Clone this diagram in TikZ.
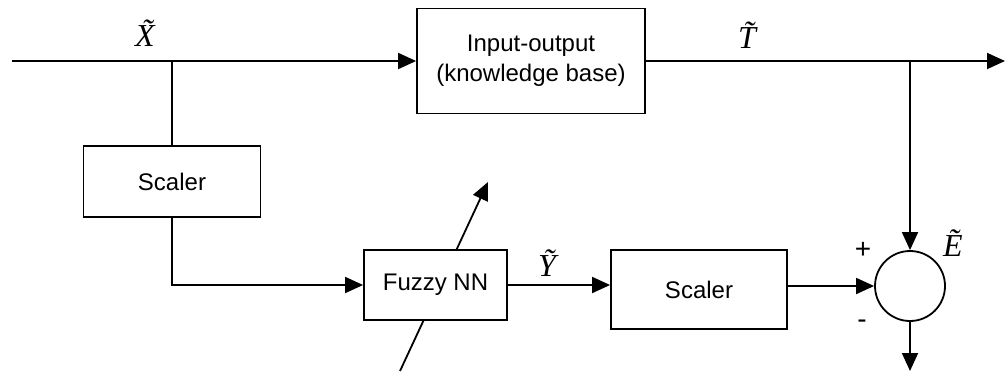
\documentclass[tikz,border=0pt]{standalone}
\usepackage{fontspec}
\setmainfont{Liberation Sans}
\newfontfamily\tnr{Liberation Serif}
\usetikzlibrary{arrows.meta}

\begin{document}
\begin{tikzpicture}[x=0.5pt, y=-0.5pt, line width=0.9pt,
    blk/.style={draw, fill=white, rectangle, inner sep=0pt, align=center, font=\fontsize{12}{15}\selectfont},
    sig/.style={font=\tnr\itshape\fontsize{16}{18}\selectfont},
    sgn/.style={font=\fontsize{14}{16}\selectfont},
    >={Triangle[length=9pt,width=8pt]}]
    \useasboundingbox (0,0) rectangle (1005,371);
    % weight adjustment arrow (behind the Fuzzy NN block)
    \coordinate (wlow) at (400,371);
    \coordinate (whigh) at (488,182);
    \draw[->] (wlow) -- (whigh);
    % blocks
    \node[blk, minimum width=114pt, minimum height=52.5pt] (io) at (531,61) {Input-output\\(knowledge base)};
    \node[blk, minimum width=88.5pt, minimum height=35.5pt] (scl1) at (172,181.5) {Scaler};
    \node[blk, minimum width=71.5pt, minimum height=35pt] (fnn) at (435.5,285) {Fuzzy NN};
    \node[blk, minimum width=88pt, minimum height=39.5pt] (scl2) at (699,289.5) {Scaler};
    \node[draw, circle, minimum size=35pt, inner sep=0pt] (sum) at (910,286) {};
    % free ends
    \coordinate (in) at (12,61);
    \coordinate (xsplit) at (172,61);
    \coordinate (tsplit) at (910,61);
    \coordinate (out) at (1005,61);
    \coordinate (eout) at (910,371);
    % connectors
    \draw[->] (in) -- (io.west);
    \draw (xsplit) -- (scl1.north);
    \draw[->] (scl1.south) |- (fnn.west);
    \draw[->] (io.east) -- (out);
    \draw[->] (tsplit) -- (sum.north);
    \draw[->] (fnn.east) -- (fnn.east -| scl2.west);
    \draw[->] (scl2.east |- sum.west) -- (sum.west);
    \draw[->] (sum.south) -- (eout);
    % labels
    \node[sig] (xlbl) at (145,33) {\~{X}};
    \node[sig] (tlbl) at (747,35) {\~{T}};
    \node[sig] (ylbl) at (547,263) {\~{Y}};
    \node[sig] (elbl) at (953,243) {\~{E}};
    \node[sgn] (plus) at (863,250) {+};
    \node[sgn] (minus) at (862,324) {-};
\end{tikzpicture}
\end{document}
